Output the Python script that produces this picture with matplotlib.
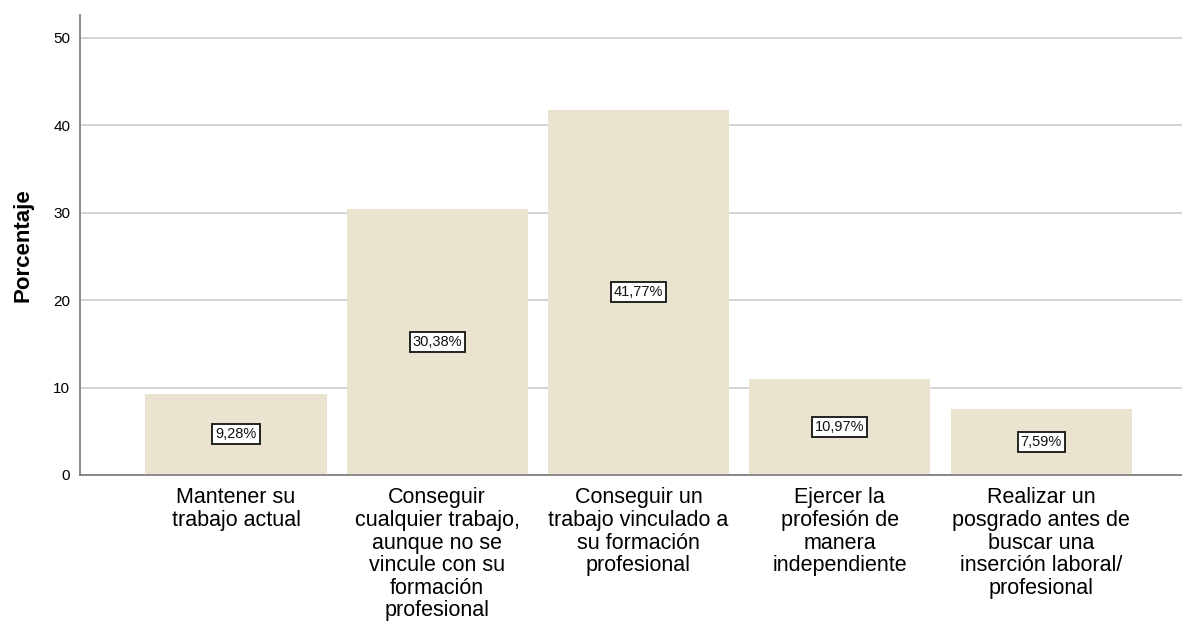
import matplotlib.pyplot as plt
import numpy as np

categorias = [
    "Mantener su\ntrabajo actual",
    "Conseguir\ncualquier trabajo,\naunque no se\nvincule con su\nformación\nprofesional",
    "Conseguir un\ntrabajo vinculado a\nsu formación\nprofesional",
    "Ejercer la\nprofesión de\nmanera\nindependiente",
    "Realizar un\nposgrado antes de\nbuscar una\ninserción laboral/\nprofesional",
]
porcentajes = [9.28, 30.38, 41.77, 10.97, 7.59]
yticks = [0, 10, 20, 30, 40, 50]

plt.rcParams["font.family"] = ["Liberation Sans", "DejaVu Sans"]

fig = plt.figure(figsize=(11.82, 6.23), dpi=100)
ax = fig.add_axes([0.0677, 0.2376, 0.9323, 0.7384])

x = np.arange(len(categorias))
ax.bar(x, porcentajes, width=0.9, color="#EAE3CF", zorder=2)
for xi, v in zip(x, porcentajes):
    ax.text(xi, v / 2, f"{v:.2f}%".replace(".", ","), ha="center", va="center",
            fontsize=10.5, color="#111111", zorder=3,
            bbox=dict(boxstyle="square,pad=0.2", fc="white", ec="#222222", lw=1.4))

ax.set_xlim(-0.775, 4.70)
ax.set_ylim(0, 52.6)
ax.set_yticks(yticks)
ax.yaxis.grid(True, color="#CCCCCC", lw=1.2, zorder=0)
ax.set_xticks(x)
ax.set_xticklabels(categorias, fontsize=15.5, linespacing=1.1)
ax.tick_params(axis="x", length=0, pad=9)
ax.tick_params(axis="y", length=0, pad=7, labelsize=11)
ax.set_ylabel("Porcentaje", fontsize=16, fontweight="bold", labelpad=14)
for s in ["top", "right"]:
    ax.spines[s].set_visible(False)
for s in ["left", "bottom"]:
    ax.spines[s].set_color("#777777")
    ax.spines[s].set_linewidth(1.2)

fig.savefig("out.png", dpi=100)
